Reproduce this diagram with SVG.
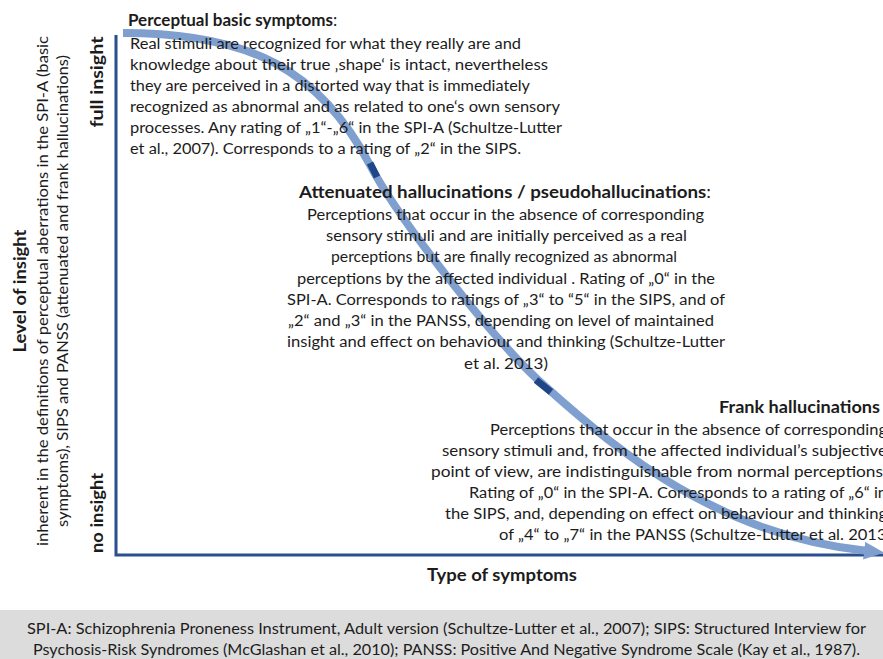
<svg xmlns="http://www.w3.org/2000/svg" width="883" height="659" viewBox="0 0 883 659">
<defs>
<style>
text{font-family:Lato,"Open Sans","Liberation Sans",sans-serif;fill:#1c1c1c}
.b{font-size:15.5px}
.t{font-size:17px;font-weight:bold}
.ax{font-size:16.5px;font-weight:bold}
.ys{font-size:15px}
.f{font-size:15.5px}
.axis{stroke:#2b4f8e;stroke-width:3;fill:none}
.curve{stroke:#7f9fcf;stroke-width:8;fill:none;stroke-linecap:butt}
.mark{stroke:#1f4787;stroke-width:7;fill:none}
</style>
<marker id="ah" markerUnits="userSpaceOnUse" markerWidth="24" markerHeight="22" refX="4" refY="11" orient="auto" viewBox="0 0 24 22">
<path d="M0,2 L20,11 L0,20 Z" fill="#7f9fcf"/>
</marker>
</defs>
<rect width="883" height="659" fill="#ffffff"/>
<g id="connectors">
<path class="axis" d="M116,35 L116,555 L883,555"/>
<path class="curve" d="M123,33 C250,33 320,70 370,165 C400,222 500,348 547,388 C620,453 720,536 868,551" marker-end="url(#ah)"/>
<path class="mark" d="M370,163 L377,177"/>
<path class="mark" d="M536,380 L551,392"/>
</g>
<g id="node-perceptual">
<text class="t" x="128" y="26">Perceptual basic symptoms<tspan font-weight="normal">:</tspan></text>
<text class="b" x="130" y="49" textLength="391" lengthAdjust="spacingAndGlyphs">Real stimuli are recognized for what they really are and</text>
<text class="b" x="130" y="70" textLength="418" lengthAdjust="spacingAndGlyphs">knowledge about their true ‚shape‘ is intact, nevertheless</text>
<text class="b" x="130" y="91" textLength="400" lengthAdjust="spacingAndGlyphs">they are perceived in a distorted way that is immediately</text>
<text class="b" x="130" y="112" textLength="430" lengthAdjust="spacingAndGlyphs">recognized as abnormal and as related to one‘s own sensory</text>
<text class="b" x="130" y="133" textLength="432" lengthAdjust="spacingAndGlyphs">processes. Any rating of „1“-„6“ in the SPI-A (Schultze-Lutter</text>
<text class="b" x="130" y="154" textLength="391" lengthAdjust="spacingAndGlyphs">et al., 2007). Corresponds to a rating of „2“ in the SIPS.</text>
</g>
<g id="node-attenuated">
<text class="t" x="299" y="198" textLength="412" lengthAdjust="spacingAndGlyphs">Attenuated hallucinations / pseudohallucinations<tspan font-weight="normal">:</tspan></text>
<text class="b" x="307" y="220" textLength="397" lengthAdjust="spacingAndGlyphs">Perceptions that occur in the absence of corresponding</text>
<text class="b" x="326" y="241" textLength="361" lengthAdjust="spacingAndGlyphs">sensory stimuli and are initially perceived as a real</text>
<text class="b" x="331" y="262" textLength="346" lengthAdjust="spacingAndGlyphs">perceptions but are finally recognized as abnormal</text>
<text class="b" x="297" y="284" textLength="418" lengthAdjust="spacingAndGlyphs">perceptions by the affected individual . Rating of „0“ in the</text>
<text class="b" x="287" y="305" textLength="438" lengthAdjust="spacingAndGlyphs">SPI-A. Corresponds to ratings of „3“ to “5“ in the SIPS, and of</text>
<text class="b" x="288" y="326" textLength="426" lengthAdjust="spacingAndGlyphs">„2“ and „3“ in the PANSS, depending on level of maintained</text>
<text class="b" x="287" y="347" textLength="438" lengthAdjust="spacingAndGlyphs">insight and effect on behaviour and thinking (Schultze-Lutter</text>
<text class="b" x="464" y="369" textLength="84" lengthAdjust="spacingAndGlyphs">et al. 2013)</text>
</g>
<g id="node-frank">
<text class="t" x="719" y="413" textLength="161" lengthAdjust="spacingAndGlyphs">Frank hallucinations</text>
<text class="b" x="490" y="435" textLength="397" lengthAdjust="spacingAndGlyphs">Perceptions that occur in the absence of corresponding</text>
<text class="b" x="442" y="456" textLength="445" lengthAdjust="spacingAndGlyphs">sensory stimuli and, from the affected individual’s subjective</text>
<text class="b" x="431" y="477" textLength="456" lengthAdjust="spacingAndGlyphs">point of view, are indistinguishable from normal perceptions.</text>
<text class="b" x="469" y="498" textLength="418" lengthAdjust="spacingAndGlyphs">Rating of „0“ in the SPI-A. Corresponds to a rating of „6“ in</text>
<text class="b" x="445" y="519" textLength="442" lengthAdjust="spacingAndGlyphs">the SIPS, and, depending on effect on behaviour and thinking</text>
<text class="b" x="499" y="540" textLength="392" lengthAdjust="spacingAndGlyphs">of „4“ to „7“ in the PANSS (Schultze-Lutter et al. 2013)</text>
</g>
<g id="axis-labels">
<text class="ax" transform="translate(26,291) rotate(-90)" text-anchor="middle" textLength="123" lengthAdjust="spacingAndGlyphs">Level of insight</text>
<text class="ys" transform="translate(48,291) rotate(-90)" text-anchor="middle" textLength="510" lengthAdjust="spacingAndGlyphs">inherent in the definitions of perceptual aberrations in the SPI-A (basic</text>
<text class="ys" transform="translate(68,291) rotate(-90)" text-anchor="middle" textLength="472" lengthAdjust="spacingAndGlyphs">symptoms), SIPS and PANSS (attenuated and frank hallucinations)</text>
<text class="ax" transform="translate(103,82) rotate(-90)" text-anchor="middle" textLength="91" lengthAdjust="spacingAndGlyphs">full insight</text>
<text class="ax" transform="translate(103,513) rotate(-90)" text-anchor="middle" textLength="80" lengthAdjust="spacingAndGlyphs">no insight</text>
<text class="ax" x="427" y="581" textLength="150" lengthAdjust="spacingAndGlyphs">Type of symptoms</text>
</g>
<g id="footer">
<rect x="0" y="610" width="883" height="49" fill="#dcdcdc"/>
<text class="f" x="27" y="634" textLength="839" lengthAdjust="spacingAndGlyphs">SPI-A: Schizophrenia Proneness Instrument, Adult version (Schultze-Lutter et al., 2007); SIPS: Structured Interview for</text>
<text class="f" x="33" y="655" textLength="827" lengthAdjust="spacingAndGlyphs">Psychosis-Risk Syndromes (McGlashan et al., 2010); PANSS: Positive And Negative Syndrome Scale (Kay et al., 1987).</text>
</g>
</svg>
